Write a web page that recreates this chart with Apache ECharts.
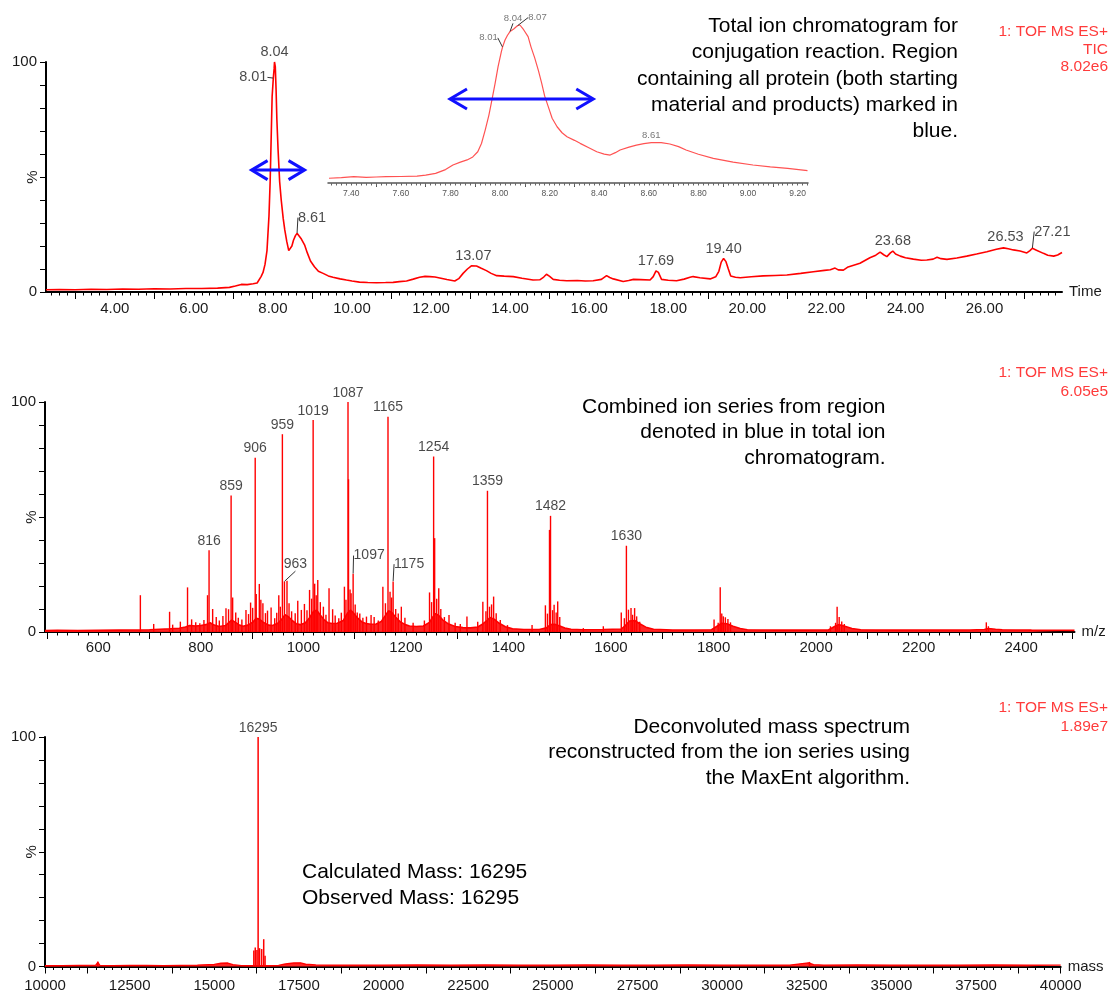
<!DOCTYPE html>
<html>
<head>
<meta charset="utf-8">
<script src="https://cdn.jsdelivr.net/npm/echarts@6/dist/echarts.min.js"></script>
<style>
html,body{margin:0;padding:0;background:#fff;}
#chart{width:1110px;height:994px;}
</style>
</head>
<body>
<div id="chart"></div>
<script>
// ---------------- DATA ----------------
// Total ion chromatogram (time in min, % intensity)
const ticData = [
[2.26,1.0],[2.6,1.1],[3.0,1.0],[3.4,1.2],[3.8,1.1],[4.2,1.3],[4.6,1.2],[5.0,1.4],[5.4,1.3],[5.8,1.5],[6.2,1.5],[6.6,1.7],[6.9,2.0],[7.05,2.6],[7.2,3.3],[7.35,3.2],[7.5,3.6],[7.6,3.9],[7.7,6.7],[7.75,8.5],[7.8,12],[7.85,18],[7.9,33],[7.93,48],[7.96,70],[7.98,85],[8.01,93],[8.03,97],[8.04,100],[8.06,98],[8.08,88],[8.1,75],[8.13,62],[8.17,48],[8.21,40],[8.26,32],[8.3,27],[8.35,22],[8.4,18],[8.44,17.5],[8.48,20],[8.52,22.5],[8.57,24.5],[8.61,25.5],[8.66,25],[8.72,23],[8.8,20.5],[8.87,17],[8.95,13.5],[9.05,11],[9.15,9],[9.27,8.1],[9.4,7.0],[9.52,6.4],[9.7,5.7],[9.86,5.2],[10.0,4.8],[10.19,4.3],[10.4,4.1],[10.62,4.0],[10.85,4.1],[11.04,4.2],[11.2,4.5],[11.38,4.8],[11.55,5.6],[11.71,6.4],[11.85,6.8],[11.97,6.7],[12.1,6.5],[12.22,6.1],[12.4,5.4],[12.6,4.8],[12.7,5.8],[12.81,8.1],[12.92,10],[13.02,11.4],[13.07,11.6],[13.15,11.3],[13.27,10.3],[13.4,9.3],[13.52,8.1],[13.66,7.1],[13.85,6.9],[14.08,6.7],[14.3,6.0],[14.58,5.2],[14.75,5.3],[14.85,6.5],[14.92,7.7],[15.0,6.8],[15.09,5.5],[15.25,5.1],[15.43,4.9],[15.7,5.0],[15.9,4.8],[16.1,4.9],[16.31,5.5],[16.44,7.1],[16.52,6.3],[16.61,5.7],[16.86,4.6],[17.0,5.0],[17.12,5.5],[17.3,5.4],[17.54,5.2],[17.62,6.7],[17.69,9.2],[17.75,8.5],[17.83,5.5],[18.0,5.1],[18.21,4.9],[18.4,5.6],[18.55,6.4],[18.63,6.7],[18.8,6.2],[19.06,5.7],[19.2,6.6],[19.28,9],[19.34,13],[19.40,14.6],[19.46,13.2],[19.52,10],[19.58,7.0],[19.7,6.4],[19.82,6.2],[20.1,6.6],[20.4,7.0],[20.7,7.2],[21.0,7.4],[21.35,8.1],[21.67,8.8],[21.95,9.4],[22.1,9.7],[22.22,10.4],[22.3,9.6],[22.43,9.5],[22.55,10.9],[22.6,10.7],[22.85,12.5],[23.1,14.9],[23.25,16],[23.36,17.3],[23.45,16.2],[23.53,15.4],[23.62,17],[23.68,17.8],[23.75,16.5],[23.87,15.6],[24.0,14.9],[24.2,14.3],[24.4,13.8],[24.54,13.9],[24.7,14.3],[24.8,15.1],[24.9,14.5],[25.05,14.2],[25.3,14.8],[25.55,15.6],[25.8,16.5],[26.06,17.5],[26.3,18.6],[26.48,19.2],[26.53,19.6],[26.6,18.8],[26.73,18.3],[26.9,17.8],[27.07,17.0],[27.15,18],[27.21,19],[27.3,18.3],[27.49,16.8],[27.6,16.0],[27.75,15.6],[27.85,16.1],[27.96,17.2]
];
const ticPeakTimes = [8.01, 8.04, 8.61, 13.07, 17.69, 19.40, 23.68, 26.53, 27.21];
const ticArrow = [[7.46, 8.80, 53]];

// Inset: zoom of the main peak
const insetData = [
[7.31,3.0],[7.36,3.4],[7.41,4.0],[7.46,3.6],[7.5,3.8],[7.54,4.0],[7.6,4.1],[7.665,4.4],[7.7,5.0],[7.74,6.1],[7.78,8.5],[7.81,11.4],[7.84,13.2],[7.867,14.6],[7.89,16.5],[7.91,19.8],[7.925,25],[7.94,33.5],[7.955,43],[7.967,52.5],[7.98,63],[7.992,73.6],[8.005,83],[8.01,86],[8.02,90.5],[8.03,93.5],[8.04,95.8],[8.055,97.5],[8.07,99.5],[8.08,100],[8.095,97],[8.113,92.6],[8.125,86],[8.14,79],[8.155,71],[8.168,63],[8.18,55],[8.195,48],[8.21,41],[8.23,35.6],[8.25,31.8],[8.27,29.3],[8.3,27],[8.323,25.1],[8.36,22.2],[8.39,19.8],[8.42,18.3],[8.444,17.7],[8.465,19.2],[8.484,20.9],[8.52,22.7],[8.55,24.0],[8.58,24.9],[8.61,25.5],[8.65,25.6],[8.685,24.7],[8.72,23],[8.75,20.9],[8.8,18.2],[8.86,15.6],[8.94,13.2],[9.02,11.4],[9.09,10.2],[9.16,9.3],[9.24,7.8]
];
const insetPeakTimes = [8.01, 8.04, 8.07, 8.61];
const insetArrow = [[7.798, 8.376, 53.2]];

// Combined ion series (m/z, %)
const mzEnvelope = [
[496,0.6],[520,0.7],[560,0.6],[600,0.7],[640,0.8],[680,0.9],[700,1.0],[720,1.2],[740,1.4],[758,1.6],[770,2.2],[778,2.8],[790,2.6],[800,2.8],[810,3.2],[818,4.0],[826,3.0],[836,2.4],[848,2.8],[855,4.2],[860,5.2],[866,4.4],[874,3.2],[882,2.5],[892,3.0],[902,4.4],[908,6.0],[914,5.6],[922,4.2],[932,3.0],[940,2.8],[950,3.8],[958,5.6],[964,7.5],[970,6.8],[978,5.0],[986,3.6],[994,3.2],[1004,4.0],[1012,6.2],[1020,9.0],[1026,9.5],[1032,7.6],[1040,5.4],[1048,4.0],[1056,3.7],[1066,3.8],[1078,5.0],[1086,8.2],[1092,9.5],[1098,8.2],[1106,6.0],[1114,4.4],[1122,3.7],[1132,3.4],[1142,3.5],[1152,4.6],[1160,7.2],[1166,9.2],[1172,8.6],[1180,6.4],[1190,4.2],[1200,3.1],[1207,2.6],[1220,2.4],[1234,2.6],[1246,4.2],[1252,6.4],[1258,8.0],[1264,7.2],[1272,5.2],[1282,3.6],[1296,2.4],[1311,1.9],[1326,1.8],[1340,2.2],[1350,3.5],[1358,5.0],[1364,6.3],[1372,5.6],[1382,3.8],[1394,2.3],[1408,1.4],[1430,1.1],[1460,1.1],[1474,1.8],[1482,3.2],[1490,3.4],[1500,2.6],[1510,1.7],[1522,1.2],[1545,1.0],[1585,1.1],[1620,1.3],[1628,2.8],[1636,4.8],[1646,5.0],[1656,3.6],[1668,2.1],[1683,1.2],[1720,0.9],[1760,0.9],[1796,1.0],[1806,2.4],[1816,3.8],[1826,3.6],[1838,2.5],[1852,1.5],[1866,1.0],[1920,0.8],[1980,0.8],[2024,0.9],[2036,2.4],[2044,3.2],[2056,2.5],[2070,1.5],[2087,1.0],[2150,0.8],[2220,0.9],[2300,0.9],[2328,1.1],[2336,1.5],[2350,1.2],[2363,1.0],[2420,0.8],[2504,0.7]
];
const mzSticks = [
[682,16],[708,3.5],[739,8.8],[745,3.2],[760,4.5],[774,19.4],[782,5.5],[790,4.2],[798,3.8],[806,5.2],[813,16],[816,35.5],[823,10],[830,6.5],[836,5.0],[843,7.0],[849,10.3],[854,9.9],[859,59.3],[862,15],[868,8.5],[873,6.2],[880,5.4],[888,9.6],[893,7.8],[897,12.8],[901,10.5],[906,75.8],[908,16.5],[914,20.9],[917,14],[921,12.5],[926,8.2],[930,9.3],[937,10.7],[944,6.0],[948,8.4],[952,16],[955,11],[959,86],[963,22],[968,22.3],[972,12.5],[977,9],[984,8.2],[989,13.6],[996,9.6],[1002,12.2],[1007,9.5],[1012,18.3],[1016,14.5],[1019,92.2],[1022,21],[1025,16],[1028,22.6],[1033,13],[1039,11],[1044,7.5],[1050,19],[1057,9.9],[1062,7.2],[1069,6.0],[1074,8.4],[1080,19.7],[1083,14],[1087,100],[1088,66.4],[1091,18.5],[1093,16.8],[1097,25.3],[1101,12],[1105,8.5],[1110,8],[1116,6.2],[1123,6.7],[1132,7.4],[1138,6.5],[1146,5.0],[1155,19.7],[1160,12.5],[1165,93.6],[1169,17.5],[1172,15],[1175,22],[1180,10],[1185,8],[1191,11],[1198,6.2],[1214,4.0],[1236,5.0],[1246,17.2],[1250,13],[1254,76.3],[1256,40.8],[1260,14.5],[1264,19],[1268,10],[1275,6.5],[1284,7.4],[1296,4.0],[1306,3.5],[1319,6.7],[1340,4.5],[1350,13.2],[1356,9],[1359,61.4],[1363,11],[1367,12],[1371,15.4],[1376,8.2],[1384,5.2],[1398,3.0],[1446,3],[1472,11.6],[1476,8],[1480,44.4],[1482,50.5],[1486,9.5],[1489,11.9],[1493,8.5],[1496,13.3],[1500,6.5],[1546,1.7],[1585,2.5],[1620,8.5],[1626,6],[1630,37.5],[1634,9.7],[1639,10.4],[1642,7.5],[1646,10.4],[1650,6.8],[1656,4.5],[1801,5.4],[1809,4],[1813,19.5],[1816,8],[1819,6.8],[1823,6.4],[1828,5.6],[1833,4.2],[2028,2.5],[2038,4],[2041,11],[2045,6.5],[2050,4.6],[2055,3.5],[2332,4.2],[2336,2.5]
];
const mzPeakLabels = [816, 859, 906, 959, 963, 1019, 1087, 1097, 1165, 1175, 1254, 1359, 1482, 1630];

// Deconvoluted mass spectrum (mass, %)
const massNoise = [
[10000,0.3],[10500,0.4],[11000,0.5],[11500,0.6],[11560,1.8],[11620,0.5],[12000,0.4],[12500,0.5],[13000,0.5],[13500,0.4],[14000,0.5],[14500,0.6],[15000,0.9],[15200,1.4],[15400,1.5],[15550,0.8],[15800,0.4],[16100,0.3],[16600,0.3],[16900,0.5],[17100,1.1],[17350,1.5],[17550,1.6],[17700,1.0],[18000,0.7],[18500,0.6],[19000,0.6],[20000,0.6],[21000,0.7],[22000,0.6],[23000,0.7],[24000,0.6],[25000,0.6],[26000,0.7],[27000,0.6],[28000,0.6],[29000,0.7],[30000,0.6],[31000,0.6],[32000,0.6],[32550,1.6],[32700,0.8],[33000,0.6],[34000,0.7],[35000,0.6],[36000,0.6],[37000,0.6],[38000,0.7],[39000,0.6],[40000,0.6]
];
const massSticks = [[11560,2.2],[16168,7],[16210,8.3],[16260,7.2],[16295,100],[16337,8],[16400,7.6],[16460,11.9],[16500,4.7],[32580,2]];
const massPeakLabels = [16295];

// Tick label values
const ticLabelVals = [4,6,8,10,12,14,16,18,20,22,24,26];
const insetLabelVals = [7.4,7.6,7.8,8.0,8.2,8.4,8.6,8.8,9.0,9.2];
const mzLabelVals = [600,800,1000,1200,1400,1600,1800,2000,2200,2400];
const massLabelVals = [10000,12500,15000,17500,20000,22500,25000,27500,30000,32500,35000,37500,40000];

// ---------------- HELPERS ----------------
const FONT = '"Liberation Sans", Arial, Helvetica, sans-serif';
function steps(a, b, s) {
  const out = []; const n = Math.round((b - a) / s);
  for (let i = 0; i <= n; i++) out.push(+(a + i * s).toFixed(4));
  return out;
}
function lookup(arr, x) {
  const p = arr.find(d => Math.abs(d[0] - x) < 1e-9);
  return p ? p[1] : 0;
}

function mainXAxes(grid, min, max, labels, longTicks, shortTicks, fmt, name, margin) {
  return [{
    type: 'value', gridIndex: grid, min: min, max: max, position: 'bottom',
    axisLine: { show: true, onZero: false, lineStyle: { color: '#000', width: 2 } },
    axisTick: { show: true, length: 7, customValues: longTicks, lineStyle: { color: '#000', width: 1 } },
    axisLabel: { show: true, customValues: labels, formatter: fmt, margin: margin, fontSize: 15, color: '#1a1a1a', fontFamily: FONT },
    splitLine: { show: false },
    name: name, nameLocation: 'end', nameGap: 7, nameMoveOverlap: false,
    nameTextStyle: { fontSize: 15, color: '#1a1a1a', fontFamily: FONT, verticalAlign: 'middle' }
  }, {
    type: 'value', gridIndex: grid, min: min, max: max, position: 'bottom',
    axisLine: { show: false },
    axisTick: { show: true, length: 3.5, customValues: shortTicks, lineStyle: { color: '#000', width: 1 } },
    axisLabel: { show: false }, splitLine: { show: false }
  }];
}
function mainYAxis(grid) {
  return {
    type: 'value', gridIndex: grid, min: 0, max: 100, interval: 10,
    axisLine: { show: true, lineStyle: { color: '#000', width: 2 } },
    axisTick: { show: true, length: 6, lineStyle: { color: '#000', width: 1 } },
    axisLabel: { show: true, customValues: [0, 100], margin: 9, fontSize: 15, color: '#1a1a1a', fontFamily: FONT },
    splitLine: { show: false },
    name: '%', nameLocation: 'middle', nameRotate: 90, nameGap: 5.5, nameMoveOverlap: false,
    nameTextStyle: { fontSize: 15, color: '#1a1a1a', fontFamily: FONT }
  };
}
function labelSeries(xi, yi, pts, fmt, fontSize, color, offsets) {
  return {
    type: 'scatter', xAxisIndex: xi, yAxisIndex: yi, clip: false, silent: true, z: 6,
    symbol: 'circle', symbolSize: 0.5, itemStyle: { color: 'rgba(0,0,0,0)' },
    data: pts.map((p, i) => ({ value: p, labelLine: { show: !!offsets[i], lineStyle: { color: '#333', width: 1 } } })),
    label: { show: true, position: 'top', distance: 2, fontSize: fontSize, color: color, fontFamily: FONT,
      formatter: (p) => fmt(p.value[0]) },
    labelLayout: (params) => { const o = offsets[params.dataIndex]; return o ? { dx: o[0], dy: o[1] } : {}; }
  };
}
function arrowSeries(xi, yi, data, L, H) {
  return {
    type: 'custom', xAxisIndex: xi, yAxisIndex: yi, data: data, z: 7, silent: true, clip: false,
    encode: { x: [0, 1], y: 2 },
    renderItem: function (params, api) {
      const a = api.coord([api.value(0), api.value(2)]);
      const b = api.coord([api.value(1), api.value(2)]);
      const st = { stroke: '#1010ff', lineWidth: 3, fill: null, lineJoin: 'miter' };
      return { type: 'group', children: [
        { type: 'line', shape: { x1: a[0] + 1, y1: a[1], x2: b[0] - 1, y2: b[1] }, style: st },
        { type: 'polyline', shape: { points: [[a[0] + L, a[1] - H], [a[0], a[1]], [a[0] + L, a[1] + H]] }, style: st },
        { type: 'polyline', shape: { points: [[b[0] - L, b[1] - H], [b[0], b[1]], [b[0] - L, b[1] + H]] }, style: st }
      ]};
    }
  };
}
function textEl(x, y, text, size, lh, align, color) {
  return { type: 'text', x: x, y: y, silent: true, z: 10,
    style: { text: text, font: size + 'px ' + FONT, fontSize: size, fontFamily: FONT, lineHeight: lh,
      align: align, textAlign: align, verticalAlign: 'top', textVerticalAlign: 'top', fill: color } };
}

// ---------------- OPTION ----------------
const f2 = v => (+v).toFixed(2);
const f0 = v => String(Math.round(v));

const xAxes = [].concat(
  mainXAxes(0, 2.26, 27.96, ticLabelVals, steps(3, 27, 2), steps(2.4, 27.8, 0.2), f2, 'Time', 9),
  [{
    type: 'value', gridIndex: 1, min: 7.306, max: 9.242, position: 'bottom',
    axisLine: { show: true, onZero: false, lineStyle: { color: '#555', width: 1.5 } },
    axisTick: { show: true, length: 4, customValues: steps(7.5, 9.1, 0.2), lineStyle: { color: '#555', width: 1 } },
    axisLabel: { show: true, customValues: insetLabelVals, formatter: f2, margin: 6, fontSize: 8.5, color: '#555', fontFamily: FONT },
    splitLine: { show: false }
  }, {
    type: 'value', gridIndex: 1, min: 7.306, max: 9.242, position: 'bottom',
    axisLine: { show: false },
    axisTick: { show: true, length: 2.5, customValues: steps(7.32, 9.24, 0.02), lineStyle: { color: '#666', width: 1 } },
    axisLabel: { show: false }, splitLine: { show: false }
  }],
  mainXAxes(2, 496, 2504, mzLabelVals, steps(500, 2500, 200), steps(500, 2500, 20), f0, 'm/z', 8.5),
  mainXAxes(3, 10000, 40000, massLabelVals, [10000].concat(steps(11250, 38750, 2500), [40000]), steps(10000, 40000, 250), f0, 'mass', 12)
);

const yAxes = [
  mainYAxis(0),
  { type: 'value', gridIndex: 1, min: 0, max: 100, show: false },
  mainYAxis(2),
  mainYAxis(3)
];

const option = {
  animation: false,
  backgroundColor: '#fff',
  grid: [
    { left: 46, right: 48, top: 62, height: 230, outerBoundsMode: 'none', containLabel: false },
    { left: 328, width: 480, top: 25, height: 158, outerBoundsMode: 'none', containLabel: false },
    { left: 45, width: 1029.5, top: 402, height: 230, outerBoundsMode: 'none', containLabel: false },
    { left: 45, width: 1015.7, top: 737, height: 229.5, outerBoundsMode: 'none', containLabel: false }
  ],
  xAxis: xAxes,
  yAxis: yAxes,
  series: [
    { type: 'line', xAxisIndex: 0, yAxisIndex: 0, data: ticData, showSymbol: false, symbol: 'none', clip: false,
      lineStyle: { color: '#ff0000', width: 1.6 }, z: 3 },
    labelSeries(0, 0, ticPeakTimes.map(t => [t, lookup(ticData, t)]), f2, 14.5, '#1a1a1a',
      { 0: [-20, 9], 2: [15, -6], 8: [20, -7] }),
    arrowSeries(0, 0, ticArrow, 16, 9.5),

    { type: 'line', xAxisIndex: 2, yAxisIndex: 1, data: insetData, showSymbol: false, symbol: 'none', clip: false,
      lineStyle: { color: '#ff5252', width: 1.2 }, z: 3 },
    labelSeries(2, 1, insetPeakTimes.map(t => [t, lookup(insetData, t)]), f2, 9.5, '#555',
      { 0: [-14, -2], 1: [3, -6], 2: [20, -1] }),
    arrowSeries(2, 1, insetArrow, 17, 10),

    { type: 'line', xAxisIndex: 4, yAxisIndex: 2, data: mzEnvelope, showSymbol: false, symbol: 'none', clip: false,
      lineStyle: { color: '#ff0000', width: 1.6 }, areaStyle: { color: '#ff1a1a', opacity: 0.95 }, z: 3 },
    { type: 'bar', xAxisIndex: 4, yAxisIndex: 2, data: mzSticks, barWidth: 1.4, clip: false,
      itemStyle: { color: '#ff0000' }, z: 4 },
    labelSeries(4, 2, mzPeakLabels.map(m => [m, lookup(mzSticks, m)]), f0, 14, '#1a1a1a',
      { 4: [11, -8], 7: [16, -9], 9: [16, -8] }),

    { type: 'line', xAxisIndex: 6, yAxisIndex: 3, data: massNoise, showSymbol: false, symbol: 'none', clip: false,
      lineStyle: { color: '#ff0000', width: 1.4 }, areaStyle: { color: '#ff1a1a', opacity: 0.95 }, z: 3 },
    { type: 'bar', xAxisIndex: 6, yAxisIndex: 3, data: massSticks, barWidth: 1.5, clip: false,
      itemStyle: { color: '#ff0000' }, z: 4 },
    labelSeries(6, 3, massPeakLabels.map(m => [m, lookup(massSticks, m)]), f0, 14, '#1a1a1a', {})
  ],
  graphic: [
    textEl(958, 13, 'Total ion chromatogram for\nconjugation reaction. Region\ncontaining all protein (both starting\nmaterial and products) marked in\nblue.', 21, 26.3, 'right', '#000'),
    textEl(1108, 23, '1: TOF MS ES+\nTIC\n8.02e6', 15.5, 17.5, 'right', '#ff3b3b'),
    textEl(885.5, 394, 'Combined ion series from region\ndenoted in blue in total ion\nchromatogram.', 21, 25.7, 'right', '#000'),
    textEl(1108, 364, '1: TOF MS ES+\n6.05e5', 15.5, 18.3, 'right', '#ff3b3b'),
    textEl(910, 714, 'Deconvoluted mass spectrum\nreconstructed from the ion series using\nthe MaxEnt algorithm.', 21, 25.7, 'right', '#000'),
    textEl(1108, 699, '1: TOF MS ES+\n1.89e7', 15.5, 18.3, 'right', '#ff3b3b'),
    textEl(302, 858.5, 'Calculated Mass: 16295\nObserved Mass: 16295', 21, 26.6, 'left', '#000')
  ]
};

const chart = echarts.init(document.getElementById('chart'), null, { renderer: 'canvas' });
chart.setOption(option);
</script>
</body>
</html>
